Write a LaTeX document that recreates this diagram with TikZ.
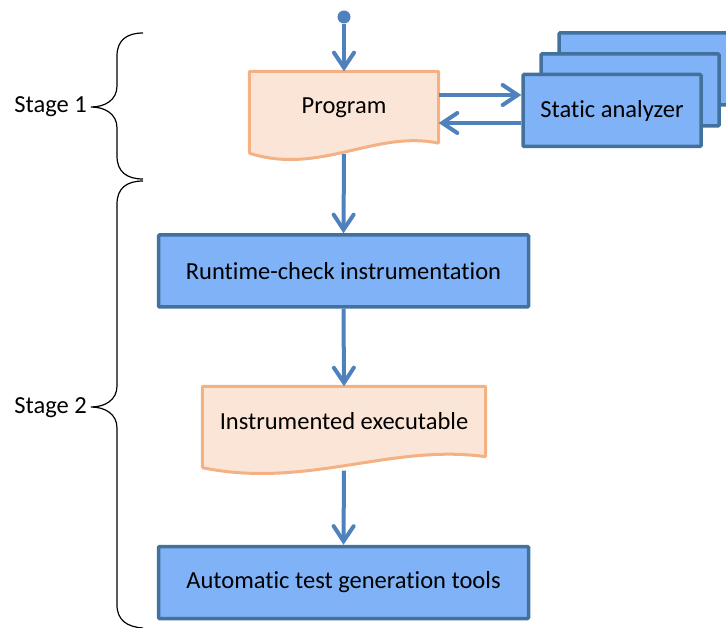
\documentclass[tikz,border=0pt]{standalone}
\usepackage{fontspec}
\setmainfont{Carlito}[Ligatures=NoCommon]
\usetikzlibrary{arrows.meta,calc}

\definecolor{boxfill}{HTML}{7FB2F6}
\definecolor{boxedge}{HTML}{41719C}
\definecolor{flowcol}{HTML}{4F81BD}
\definecolor{docfill}{HTML}{FBE5D6}
\definecolor{docedge}{HTML}{F4B183}

\tikzset{
  labelfont/.style={font=\fontsize{24.5}{29}\selectfont},
  blockbox/.style={draw=boxedge, fill=boxfill, line width=3.5pt, rounded corners=1pt,
    inner sep=0pt, labelfont},
  docnode/.style={inner sep=0pt, labelfont},
  docline/.style={draw=docedge, fill=docfill, line width=3pt, rounded corners=1pt},
  flow/.style={draw=flowcol, line width=4pt,
    -{Straight Barb[length=15pt,width=20pt,line width=4pt,line cap=round]}},
  bracestroke/.style={draw=black, line width=1.2pt},
}

\begin{document}
\begin{tikzpicture}[x=1pt,y=-1pt]
\useasboundingbox (0,0) rectangle (726,628);

% start marker
\node[circle, fill=flowcol, inner sep=0pt, minimum size=13pt] (start) at (344,17) {};

% stacked static analyzer boxes
\node[blockbox, minimum width=178pt, minimum height=72pt] (sa3) at (648,69) {};
\node[blockbox, minimum width=178pt, minimum height=72pt] (sa2) at (630,90) {};
\node[blockbox, minimum width=178pt, minimum height=72pt] (sa) at (612,110.5) {Static analyzer};

% document: Program
\node[docnode, minimum width=189pt, minimum height=71.5pt] (prog) at (344,107.25) {};
\draw[docline] (prog.south west) -- (prog.north west) -- (prog.north east) -- (prog.south east)
  .. controls ($(prog.south east)+(-63.5,-13)$) and ($(prog.south west)+(70.5,32)$) ..
  ($(prog.south west)+(0,10)$) -- cycle;
\node[docnode] (progtxt) at (prog.center) {Program};

% process boxes
\node[blockbox, minimum width=370pt, minimum height=72pt] (rt) at (343.5,271) {Runtime-check instrumentation};

% document: Instrumented executable
\node[docnode, minimum width=283pt, minimum height=70pt] (inst) at (344,421.5) {};
\draw[docline] (inst.south west) -- (inst.north west) -- (inst.north east) -- (inst.south east)
  .. controls ($(inst.south east)+(-95,-13)$) and ($(inst.south west)+(105,32)$) ..
  ($(inst.south west)+(0,11)$) -- cycle;
\node[docnode] (insttxt) at (inst.center) {Instrumented executable};

\node[blockbox, minimum width=370pt, minimum height=72pt] (atg) at (343.5,582.5) {Automatic test generation tools};

% connectors
\coordinate (fwd) at (0,95);
\coordinate (back) at (0,123);
\draw[flow] (start) -- (prog.north);
\draw[flow] (prog.east |- fwd) -- (sa.west |- fwd);
\draw[flow] (sa.west |- back) -- (prog.east |- back);
\draw[flow] ($(prog.south)+(0,11)$) -- (rt.north);
\draw[flow] (rt.south) -- (inst.north);
\draw[flow] ($(inst.south)+(0,14)$) -- (atg.north);

% stage braces
\draw[bracestroke] (143,33) .. controls (127,33) and (117,40) .. (117,56) -- (117,86)
  .. controls (117,100) and (105,107) .. (91,107)
  .. controls (105,107) and (117,114) .. (117,128) -- (117,156)
  .. controls (117,172) and (127,179) .. (143,179);
\draw[bracestroke] (143,181) .. controls (127,181) and (117,188) .. (117,204) -- (117,386)
  .. controls (117,400) and (105,407) .. (91,407)
  .. controls (105,407) and (117,414) .. (117,428) -- (117,605)
  .. controls (117,620) and (127,627) .. (143,628);

\node[labelfont, anchor=east, inner sep=0pt] (s1) at (87,107) {Stage 1};
\node[labelfont, anchor=east, inner sep=0pt] (s2) at (87,408) {Stage 2};
\end{tikzpicture}
\end{document}
